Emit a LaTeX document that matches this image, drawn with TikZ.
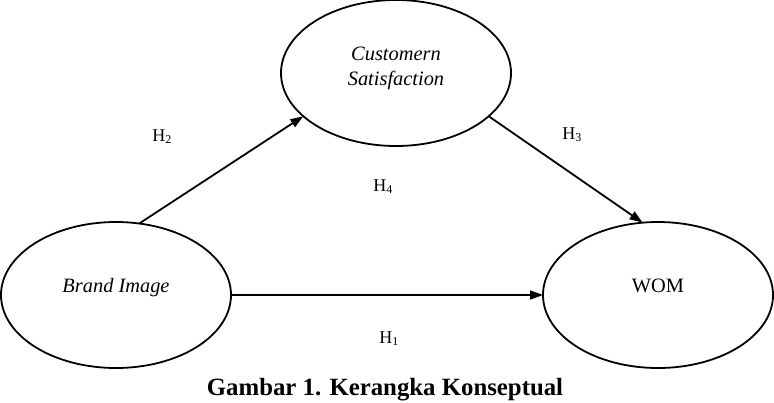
\documentclass[tikz,border=0pt]{standalone}
\usepackage{fontspec}
\setmainfont{Liberation Serif}
\usetikzlibrary{shapes.geometric,arrows.meta}
\begin{document}
\begin{tikzpicture}[x=0.5pt,y=-0.5pt,
    construct/.style={draw,ellipse,line width=0.9pt,inner sep=0pt,outer sep=0pt,
      minimum width=115pt,minimum height=73pt,
      font=\fontsize{10.2}{12.5}\selectfont,text height=7pt,text depth=10pt},
    hyp/.style={line width=0.9pt,-{Triangle[length=6.5pt,width=4.5pt]}},
    hlabel/.style={anchor=base west,inner sep=0pt,font=\fontsize{9}{10}\selectfont}]
  \useasboundingbox (0,0) rectangle (774,402);
  \node[construct,font=\fontsize{10.2}{12.5}\selectfont\itshape] (brand) at (116,295) {Brand Image};
  \node[construct,align=center,text height=14pt,text depth=2pt,font=\fontsize{10.2}{12.5}\selectfont\itshape] (satis) at (396,73) {Customern\\Satisfaction};
  \node[construct] (wom) at (658,295) {WOM};
  \draw[hyp] (brand.72) -- (satis.205);
  \draw[hyp] (satis.335) -- (wom.102);
  \draw[hyp] (brand.east) -- (wom.west);
  \node[hlabel] (h2) at (152,141) {H\textsubscript{2}};
  \node[hlabel] (h3) at (562,139) {H\textsubscript{3}};
  \node[hlabel] (h4) at (373,191) {H\textsubscript{4}};
  \node[hlabel] (h1) at (379,343) {H\textsubscript{1}};
  \node[anchor=base,inner sep=0pt,font=\fontsize{12.4}{14}\selectfont\bfseries] (caption) at (385,395) {Gambar 1. Kerangka Konseptual};
\end{tikzpicture}
\end{document}
